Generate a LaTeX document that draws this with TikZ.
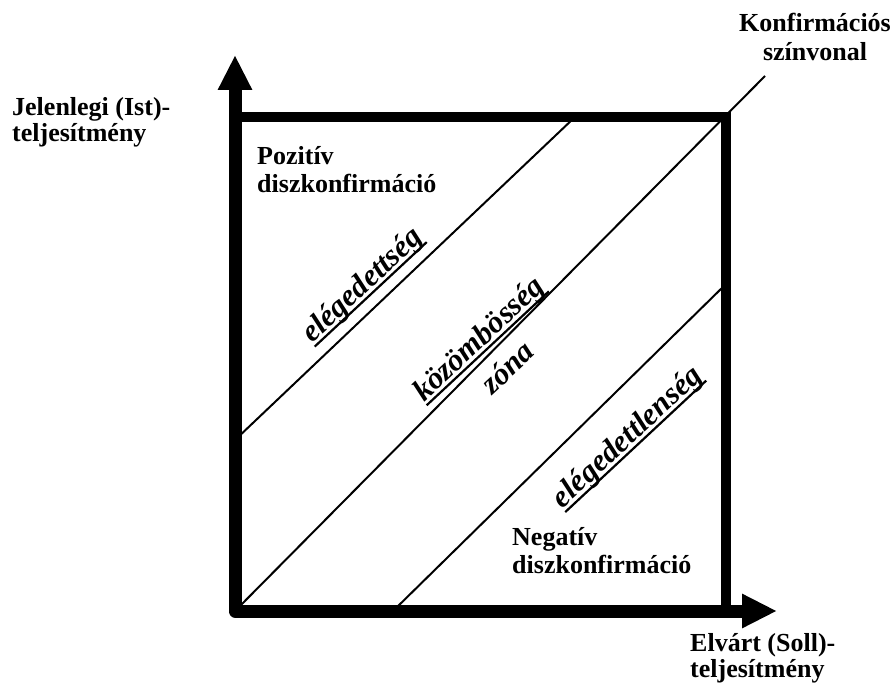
\documentclass[tikz,border=0pt]{standalone}
\usepackage{fontspec}
\setmainfont{Liberation Serif}
\usetikzlibrary{arrows.meta}
\newsavebox\myulbox
\newcommand\myul[1]{\sbox\myulbox{#1}\rlap{\rule[-5pt]{\wd\myulbox}{2.2pt}}\usebox\myulbox}
\begin{document}
\begin{tikzpicture}[x=1pt,y=-1pt,
  lbl/.style={inner sep=0pt, font=\bfseries\fontsize{26}{28}\selectfont},
  rlbl/.style={inner sep=0pt, font=\bfseries\itshape\fontsize{31}{36}\selectfont, rotate=43},
  axis/.style={line width=13pt, line join=round, {Triangle[length=35pt,width=32pt]}-{Triangle[length=35pt,width=32pt]}},
  frame/.style={line width=10.5pt},
  thin/.style={line width=2pt}]
\useasboundingbox (0,0) rectangle (893,684);
\coordinate (O) at (235,611);
\coordinate (Ytip) at (235,55);
\coordinate (Xtip) at (777,611);
\coordinate (TL) at (235,117);
\coordinate (TR) at (726,117);
\coordinate (BR) at (726,611);
\coordinate (Dend) at (765,76);
\coordinate (U1) at (235,440);
\coordinate (U2) at (575,117);
\coordinate (L1) at (393,611);
\coordinate (L2) at (726,284);
\draw[thin] (O) -- (Dend);
\draw[thin] (U1) -- (U2);
\draw[thin] (L1) -- (L2);
\draw[frame] (TL) -- (TR) -- (BR);
\draw[axis] (Ytip) -- (O) -- (Xtip);
\node[lbl, anchor=base west] (yl1) at (12,116) {Jelenlegi (Ist)-};
\node[lbl, anchor=base west] (yl2) at (12,142) {teljesítmény};
\node[lbl, anchor=base] (k1) at (815,32) {Konfirmációs};
\node[lbl, anchor=base] (k2) at (815,61) {színvonal};
\node[lbl, anchor=base west] (p1) at (257,165) {Pozitív};
\node[lbl, anchor=base west] (p2) at (257,193) {diszkonfirmáció};
\node[lbl, anchor=base west] (n1) at (512,545) {Negatív};
\node[lbl, anchor=base west] (n2) at (512,573) {diszkonfirmáció};
\node[lbl, anchor=base west] (x1) at (690,651) {Elvárt (Soll)-};
\node[lbl, anchor=base west] (x2) at (690,677) {teljesítmény};
\node[rlbl] (e1) at (363,286) {\myul{elégedettség}};
\node[rlbl] (kz1) at (480,340) {\myul{közömbösség}};
\node[rlbl] (kz2) at (507,367) {zóna};
\node[rlbl] (e2) at (628,438) {\myul{elégedettlenség}};
\end{tikzpicture}
\end{document}
